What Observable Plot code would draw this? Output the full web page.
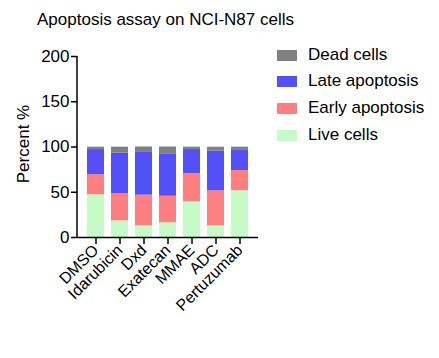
<!DOCTYPE html>
<html><head><meta charset="utf-8">
<script src="https://cdn.jsdelivr.net/npm/d3@7"></script>
<script src="https://cdn.jsdelivr.net/npm/@observablehq/plot@0.6"></script>
<style>
body{margin:0;background:#fff;font-family:"Liberation Sans",Arial,sans-serif;}
#wrap{position:relative;width:439px;height:358px;}
#title{position:absolute;left:37px;top:10px;font-size:17px;color:#000;white-space:nowrap;}
#ylab{position:absolute;left:24px;top:144px;font-size:17px;white-space:nowrap;transform:translate(-50%,-50%) rotate(-90deg);}
.leg{position:absolute;left:277px;font-size:17px;white-space:nowrap;display:flex;align-items:center;}
.sw{width:20px;height:11px;margin-right:11px;}
</style></head>
<body><div id="wrap"><div id="title">Apoptosis assay on NCI-N87 cells</div><div id="ylab">Percent %</div></div>
<script>
const drugs = ["DMSO","Idarubicin","Dxd","Exatecan","MMAE","ADC","Pertuzumab"];
const series = ["Live cells","Early apoptosis","Late apoptosis","Dead cells"];
const colors = ["#c6fbc8","#ff7f80","#5151f7","#808080"];
const live  = [47.2, 18.4, 12.9, 16.2, 39.4, 12.9, 51.6];
const early = [22.1, 29.9, 33.9, 29.4, 31.0, 38.7, 22.4];
const late  = [27.9, 44.9, 47.2, 46.9, 26.8, 43.8, 22.1];
const dead  = [ 2.6,  6.6,  6.0,  7.5,  2.6,  4.4,  3.7];
const yTicks = [0, 50, 100, 150, 200];

const valuesBySeries = [live, early, late, dead];
const data = [];
drugs.forEach((d, i) => series.forEach((s, j) => data.push({drug: d, series: s, value: valuesBySeries[j][i]})));

const svgns = "http://www.w3.org/2000/svg";
const yAxisLine = (index, scales, values, dims) => {
  const g = document.createElementNS(svgns, "line");
  g.setAttribute("x1", dims.marginLeft); g.setAttribute("x2", dims.marginLeft);
  g.setAttribute("y1", dims.marginTop); g.setAttribute("y2", dims.height - dims.marginBottom);
  g.setAttribute("stroke", "#000"); g.setAttribute("stroke-width", 1.5);
  return g;
};

const chart = Plot.plot({
  width: 439, height: 358,
  marginLeft: 77, marginRight: 181, marginTop: 56, marginBottom: 121,
  style: {fontFamily: '"Liberation Sans", Arial, sans-serif', background: "transparent", color: "#000"},
  x: {domain: drugs, paddingInner: 0.31, paddingOuter: 0.33},
  y: {domain: [0, 200]},
  color: {domain: series, range: colors},
  marks: [
    Plot.barY(data, {x: "drug", y: "value", fill: "series", order: series}),
    Plot.ruleY([0], {stroke: "#000", strokeWidth: 1.5}),
    yAxisLine,
    Plot.axisY({ticks: yTicks, tickSize: 6, tickPadding: 2, fontSize: 17, strokeWidth: 1.5, label: null}),
    Plot.axisX({tickSize: 7, tickPadding: 3, fontSize: 16, tickRotate: -45, strokeWidth: 1.5, label: null})
  ]
});
chart.style.position = "absolute"; chart.style.left = "0"; chart.style.top = "0";
const wrap = document.getElementById("wrap");
wrap.insertBefore(chart, wrap.firstChild);

const legTops = [45, 71, 98, 125];
[...series].reverse().forEach((s, k) => {
  const idx = series.indexOf(s);
  const el = document.createElement("div");
  el.className = "leg"; el.style.top = legTops[k] + "px";
  el.innerHTML = `<div class="sw" style="background:${colors[idx]}"></div><span>${s}</span>`;
  wrap.appendChild(el);
});
</script></body></html>
